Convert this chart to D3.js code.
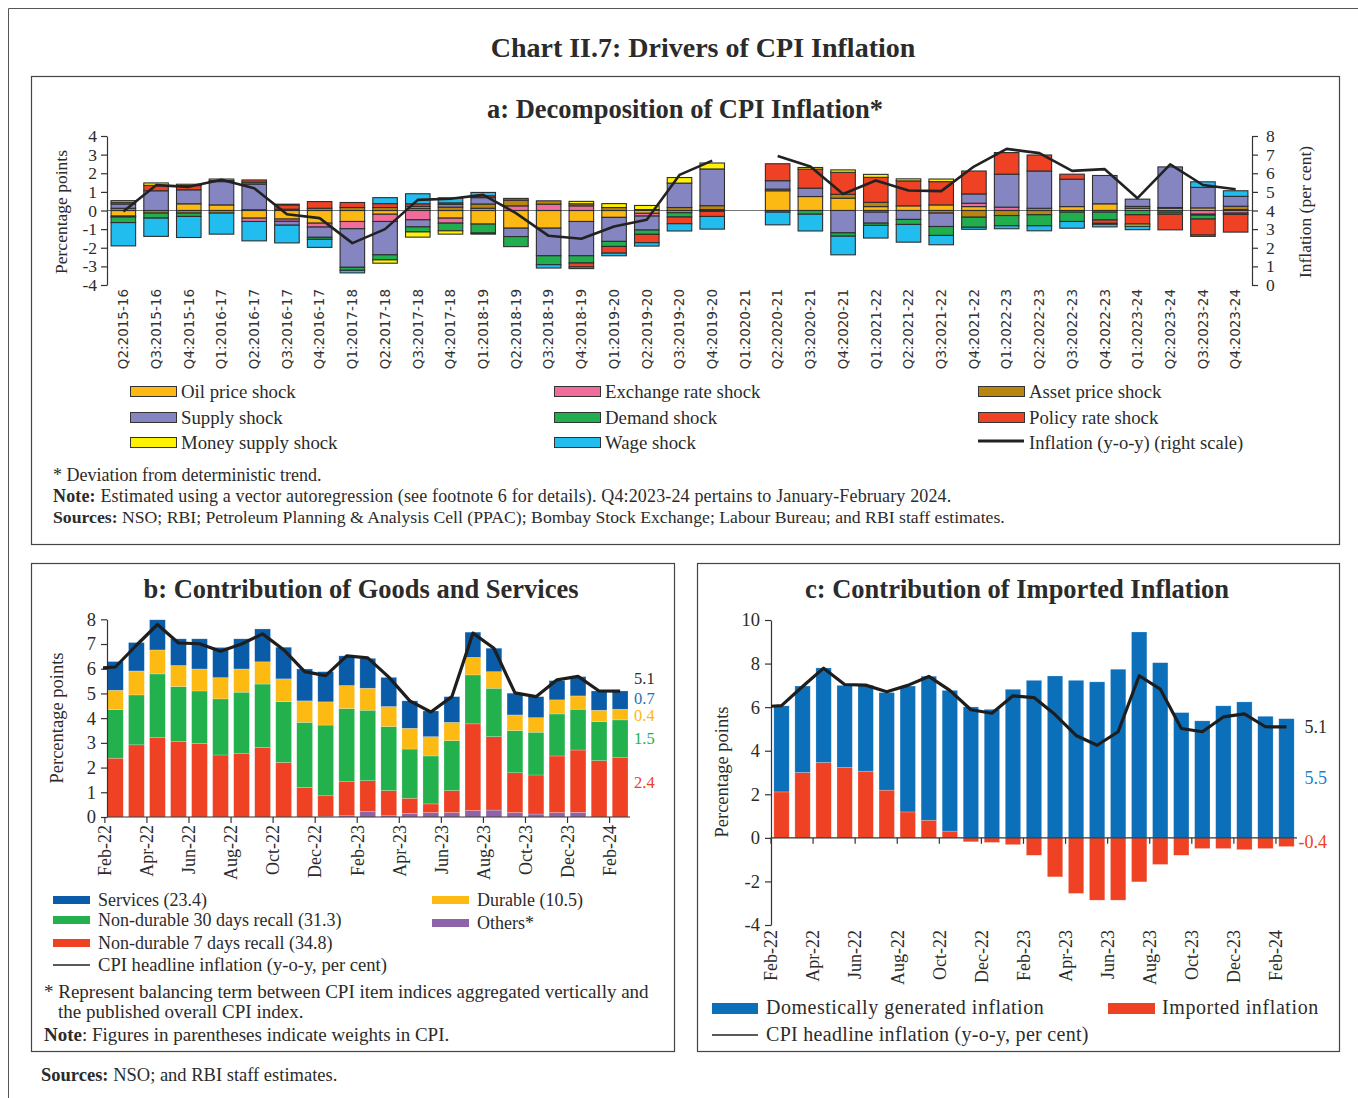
<!DOCTYPE html>
<html><head><meta charset="utf-8">
<script src="https://cdn.jsdelivr.net/npm/d3@7"></script>
<style>
body{margin:0;background:#fff;}
svg{display:block;}
</style></head><body>
<svg id="c" width="1358" height="1098"></svg>
<script>
// ---------------- DATA ----------------
// Panel a: quarters and shock decomposition (percentage points)
const quarters = ["Q2:2015-16","Q3:2015-16","Q4:2015-16","Q1:2016-17","Q2:2016-17","Q3:2016-17","Q4:2016-17",
  "Q1:2017-18","Q2:2017-18","Q3:2017-18","Q4:2017-18","Q1:2018-19","Q2:2018-19","Q3:2018-19","Q4:2018-19",
  "Q1:2019-20","Q2:2019-20","Q3:2019-20","Q4:2019-20","Q1:2020-21","Q2:2020-21","Q3:2020-21","Q4:2020-21",
  "Q1:2021-22","Q2:2021-22","Q3:2021-22","Q4:2021-22","Q1:2022-23","Q2:2022-23","Q3:2022-23","Q4:2022-23",
  "Q1:2023-24","Q2:2023-24","Q3:2023-24","Q4:2023-24"];
const oilShock    = [-0.30,0,0.36,0.30,-0.41,-0.46,-0.68,-0.59,-0.20,0.10,-0.41,-0.73,-0.95,-0.95,-0.59,-0.37,-0.15,0,0.05,null,1.06,0.75,0.66,0.21,0.25,0.30,0.21,0,0,0.21,0.36,0.12,0.12,0.14,0.05];
const exchShock   = [-0.05,0,0,0,-0.18,-0.12,-0.21,-0.39,-0.39,-0.50,-0.27,0.12,0.25,0.34,0.25,0,-0.15,-0.12,0,null,0,0,0,-0.09,0,0,0.18,0.18,0.12,0,0,0,-0.09,-0.20,-0.14];
const assetShock  = [0.12,-0.14,-0.14,-0.14,0.04,0,0.12,0.16,0.16,0.12,0.18,0.23,0.30,0.18,0.11,0.16,0.05,0.16,0.21,null,0.09,0,0.21,0.23,0,-0.14,-0.36,-0.27,-0.23,-0.09,-0.09,0.10,0.04,-0.05,0.18];
const supplyShock = [0.23,1.06,0.75,1.25,1.38,-0.21,-0.55,-2.07,-1.79,-0.38,0.15,0.34,-0.45,-1.48,-1.84,-1.29,-0.75,1.31,1.97,null,0.45,0.45,-1.20,-0.59,-0.48,-0.72,0.50,1.77,2.00,1.47,1.52,0.39,2.18,1.10,0.53];
const demandShock = [-0.30,-0.27,-0.18,0,0.10,0.07,-0.11,-0.16,-0.27,-0.27,-0.41,-0.48,-0.54,-0.48,-0.39,-0.27,-0.23,-0.23,-0.05,null,-0.09,-0.20,-0.18,-0.12,-0.27,-0.48,-0.54,-0.55,-0.59,-0.50,-0.42,-0.23,-0.11,-0.21,-0.07];
const policyShock = [0.09,0.29,0.23,0.06,0.12,0.23,0.36,0.27,0.21,0.14,0.08,0.10,0.10,0,-0.21,-0.36,-0.45,-0.36,-0.27,null,0.91,1.02,1.18,1.34,1.34,1.25,1.23,1.16,0.86,0.27,-0.18,-0.50,-0.84,-0.86,-0.95];
const moneyShock  = [0.09,0.13,0.07,0.08,0,0.04,0,0,-0.18,-0.28,-0.18,-0.06,0,0,0.13,0.21,0.22,0.30,0.32,null,0,0.09,0.13,0.16,0.11,0.14,0,0,0,0,-0.05,-0.12,0,-0.07,0];
const wageShock   = [-1.25,-0.98,-1.13,-1.13,-1.04,-0.95,-0.43,-0.14,0.32,0.54,0.27,0.18,0,-0.18,-0.09,-0.14,-0.18,-0.39,-0.68,null,-0.68,-0.90,-1.00,-0.68,-0.95,-0.50,-0.11,-0.16,-0.27,-0.36,-0.14,-0.18,0,0.30,0.30];
const inflationQ  = [3.95,5.36,5.27,5.65,5.20,3.80,3.59,2.25,3.00,4.57,4.63,4.84,3.86,2.64,2.48,3.14,3.50,5.91,6.68,null,6.93,6.36,4.89,5.61,5.07,5.04,6.36,7.31,7.08,6.13,6.22,4.66,6.48,5.37,5.14];
const leftTicksA  = [-4,-3,-2,-1,0,1,2,3,4];
const rightTicksA = [0,1,2,3,4,5,6,7,8];

// Panels b and c: months
const months = ["Feb-22","Mar-22","Apr-22","May-22","Jun-22","Jul-22","Aug-22","Sep-22","Oct-22","Nov-22","Dec-22",
  "Jan-23","Feb-23","Mar-23","Apr-23","May-23","Jun-23","Jul-23","Aug-23","Sep-23","Oct-23","Nov-23","Dec-23","Jan-24","Feb-24"];
const monthTickLabels = ["Feb-22","Apr-22","Jun-22","Aug-22","Oct-22","Dec-22","Feb-23","Apr-23","Jun-23","Aug-23","Oct-23","Dec-23","Feb-24"];
// Panel b contributions (percentage points)
const others    = [0,0,0,0,0,0,0,0,0,0,0.02,0.05,0.22,0.05,0.15,0.18,0.18,0.26,0.28,0.18,0.12,0.18,0.19,0,0];
const nonDur7   = [2.38,2.92,3.21,3.05,2.98,2.51,2.58,2.81,2.21,1.20,0.84,1.38,1.25,1.02,0.61,0.35,0.89,3.51,2.97,1.61,1.58,2.29,2.52,2.28,2.40];
const nonDur30  = [1.97,2.02,2.58,2.23,2.12,2.27,2.47,2.57,2.46,2.63,2.86,2.96,2.85,2.59,1.99,1.94,2.02,1.98,1.96,1.71,1.73,1.70,1.65,1.58,1.53];
const durable   = [0.78,0.97,0.97,0.85,0.89,0.86,0.94,0.90,0.92,0.87,0.94,0.93,0.89,0.81,0.84,0.78,0.74,0.71,0.67,0.63,0.59,0.57,0.54,0.46,0.43];
const services  = [1.16,1.15,1.22,1.08,1.22,1.22,1.22,1.33,1.28,1.29,1.22,1.20,1.21,1.18,1.11,1.04,1.04,1.02,0.95,0.88,0.85,0.78,0.78,0.78,0.74];
// CPI headline inflation (y-o-y, per cent); line begins at Jan-22 edge
const cpiLeadMonth = "Jan-22";
const cpiLeadValue = 6.01;
const cpiHeadline = [6.07,6.95,7.79,7.04,7.01,6.71,7.00,7.41,6.77,5.88,5.72,6.52,6.44,5.66,4.70,4.25,4.87,7.44,6.83,5.02,4.87,5.55,5.69,5.10,5.09];
const ticksB = [0,1,2,3,4,5,6,7,8];
// Panel c
const domestic = [3.95,3.97,4.34,3.77,3.94,4.48,5.78,6.61,6.46,6.01,5.90,6.82,7.23,7.43,7.23,7.16,7.74,9.45,8.04,5.75,5.37,6.06,6.24,5.58,5.47];
const imported = [2.11,3.00,3.46,3.23,3.06,2.19,1.19,0.81,0.31,-0.18,-0.21,-0.31,-0.80,-1.79,-2.55,-2.86,-2.86,-2.02,-1.22,-0.80,-0.49,-0.49,-0.54,-0.49,-0.40];
const ticksC = [-4,-2,0,2,4,6,8,10];

// ---------------- DRAWING ----------------
const SERIF = "'Liberation Serif','DejaVu Serif',serif";
const SANS = "'DejaVu Sans',sans-serif";
const INK = "#2b2b2b";
const svg = d3.select("#c");
const fmt = d => String(d);

function text(g, x, y, s, o = {}) {
  const t = g.append("text").attr("x", x).attr("y", y)
    .attr("font-family", o.family || SERIF).attr("font-size", o.size || 17)
    .attr("fill", o.fill || INK).attr("text-anchor", o.anchor || "start")
    .attr("font-weight", o.weight || "normal");
  if (o.ls) t.attr("letter-spacing", o.ls);
  if (o.rotate) t.attr("transform", `rotate(-90,${x},${y})`).attr("dy", o.dy || "0.35em");
  t.text(s);
  return t;
}
function richText(g, x, y, parts, size, ls) {
  const t = g.append("text").attr("x", x).attr("y", y).attr("font-family", SERIF)
    .attr("font-size", size).attr("fill", INK);
  if (ls) t.attr("letter-spacing", ls);
  parts.forEach(p => t.append("tspan").attr("font-weight", p[1] ? "bold" : "normal").text(p[0]));
}

// frame
svg.append("path").attr("d", "M8.5,1098 V8.5 H1358").attr("fill", "none").attr("stroke", "#555").attr("stroke-width", 1);
text(svg, 703, 57, "Chart II.7: Drivers of CPI Inflation", {size: 28, weight: "bold", anchor: "middle"});

// panel boxes
[[31, 76, 1308, 468], [31, 563, 643, 488], [697, 563, 642, 488]].forEach(b =>
  svg.append("rect").attr("x", b[0] + 0.5).attr("y", b[1] + 0.5).attr("width", b[2]).attr("height", b[3])
    .attr("fill", "none").attr("stroke", "#444").attr("stroke-width", 1.2));

// ========== PANEL A ==========
const A = svg.append("g");
text(A, 685, 118, "a: Decomposition of CPI Inflation*", {size: 26.5, weight: "bold", anchor: "middle"});

const seriesA = [
  {key: "oil", name: "Oil price shock", color: "#FDB913", vals: oilShock},
  {key: "exch", name: "Exchange rate shock", color: "#F06C9B", vals: exchShock},
  {key: "asset", name: "Asset price shock", color: "#B8860F", vals: assetShock},
  {key: "supply", name: "Supply shock", color: "#8585C2", vals: supplyShock},
  {key: "demand", name: "Demand shock", color: "#21AE4E", vals: demandShock},
  {key: "policy", name: "Policy rate shock", color: "#EF4123", vals: policyShock},
  {key: "money", name: "Money supply shock", color: "#FFF200", vals: moneyShock},
  {key: "wage", name: "Wage shock", color: "#22BDEF", vals: wageShock}
];
const ax = d3.scaleBand().domain(quarters).range([107, 1252]).paddingInner(0.25).paddingOuter(0.125);
const ay = d3.scaleLinear().domain([-4, 4]).range([285, 136]);
const ayR = d3.scaleLinear().domain([0, 8]).range([285, 136]);

// zero line
A.append("line").attr("x1", 107).attr("x2", 1252).attr("y1", ay(0)).attr("y2", ay(0))
  .attr("stroke", "#777").attr("stroke-width", 1);

const rowsA = quarters.map((q, i) => {
  const r = {q, missing: oilShock[i] === null};
  seriesA.forEach(s => r[s.key] = s.vals[i] === null ? 0 : s.vals[i]);
  return r;
});
const stackA = d3.stack().keys(seriesA.map(s => s.key)).offset(d3.stackOffsetDiverging)(rowsA);
stackA.forEach((layer, li) => {
  A.append("g").selectAll("rect").data(layer.filter(d => !d.data.missing && Math.abs(d[1] - d[0]) > 1e-9))
    .join("rect")
    .attr("x", d => ax(d.data.q)).attr("width", ax.bandwidth())
    .attr("y", d => ay(Math.max(d[0], d[1]))).attr("height", d => Math.abs(ay(d[0]) - ay(d[1])))
    .attr("fill", seriesA[li].color).attr("stroke", "#2e2e2e").attr("stroke-width", 1.1);
});

// inflation line (right scale)
const lineA = d3.line().defined(d => d.v !== null)
  .x(d => ax(d.q) + ax.bandwidth() / 2).y(d => ayR(d.v));
A.append("path").datum(quarters.map((q, i) => ({q, v: inflationQ[i]})))
  .attr("d", lineA).attr("fill", "none").attr("stroke", "#222").attr("stroke-width", 2.6)
  .attr("stroke-linejoin", "round");

// axes
const axL = A.append("g").attr("transform", "translate(107,0)")
  .call(d3.axisLeft(ay).tickValues(leftTicksA).tickFormat(fmt).tickSize(6).tickSizeOuter(0));
const axR = A.append("g").attr("transform", "translate(1252,0)")
  .call(d3.axisRight(ayR).tickValues(rightTicksA).tickFormat(fmt).tickSize(6).tickSizeOuter(0));
[axL, axR].forEach(g => {
  g.selectAll("path,line").attr("stroke", "#333").attr("stroke-width", 1.2);
  g.selectAll("text").attr("font-family", SERIF).attr("font-size", 17.5).attr("fill", INK);
});
axL.selectAll("text").attr("x", -10);
axR.selectAll("text").attr("x", 14);

// x labels
quarters.forEach(q => {
  const x = ax(q) + ax.bandwidth() / 2;
  text(A, x, 289, q, {family: SANS, size: 13.5, anchor: "end", rotate: true, fill: "#333"});
});
text(A, 61, 212, "Percentage points", {size: 17.5, anchor: "middle", rotate: true});
text(A, 1305, 212, "Inflation (per cent)", {size: 17.5, anchor: "middle", rotate: true});

// legend a
const legA = [
  [seriesA[0], 130, 392], [seriesA[3], 130, 418], [seriesA[6], 130, 443],
  [seriesA[1], 554, 392], [seriesA[4], 554, 418], [seriesA[7], 554, 443],
  [seriesA[2], 978, 392], [seriesA[5], 978, 418]
];
legA.forEach(([s, x, y]) => {
  A.append("rect").attr("x", x + 0.5).attr("y", y - 5.5).attr("width", 46).attr("height", 10)
    .attr("fill", s.color).attr("stroke", "#333").attr("stroke-width", 1);
  text(A, x + 51, y + 6, s.name, {size: 18.8});
});
A.append("line").attr("x1", 978).attr("x2", 1024).attr("y1", 441).attr("y2", 441)
  .attr("stroke", "#222").attr("stroke-width", 3);
text(A, 1029, 449, "Inflation (y-o-y) (right scale)", {size: 18.5});

text(A, 53, 481, "* Deviation from deterministic trend.", {size: 18});
richText(A, 53, 502, [["Note:", true], [" Estimated using a vector autoregression (see footnote 6 for details). Q4:2023-24 pertains to January-February 2024.", false]], 18, 0.15);
richText(A, 53, 523, [["Sources:", true], [" NSO; RBI; Petroleum Planning & Analysis Cell (PPAC); Bombay Stock Exchange; Labour Bureau; and RBI staff estimates.", false]], 17.7);

// ========== PANEL B ==========
const B = svg.append("g");
text(B, 361, 598, "b: Contribution of Goods and Services", {size: 26.5, weight: "bold", anchor: "middle"});
const seriesB = [
  {key: "others", name: "Others*", color: "#8E63A9", vals: others},
  {key: "nd7", name: "Non-durable 7 days recall (34.8)", color: "#EF4123", vals: nonDur7},
  {key: "nd30", name: "Non-durable 30 days recall (31.3)", color: "#22B14C", vals: nonDur30},
  {key: "dur", name: "Durable (10.5)", color: "#FDBA12", vals: durable},
  {key: "serv", name: "Services (23.4)", color: "#0B5CA8", vals: services}
];
const bx = d3.scaleBand().domain(months).range([107.5, 628]).paddingInner(0.25).paddingOuter(0);
const by = d3.scaleLinear().domain([0, 8]).range([817, 619.3]);
const rowsB = months.map((m, i) => { const r = {m}; seriesB.forEach(s => r[s.key] = s.vals[i]); return r; });
const stackB = d3.stack().keys(seriesB.map(s => s.key)).offset(d3.stackOffsetDiverging)(rowsB);
stackB.forEach((layer, li) => {
  B.append("g").selectAll("rect").data(layer.filter(d => Math.abs(d[1] - d[0]) > 1e-9)).join("rect")
    .attr("x", d => bx(d.data.m)).attr("width", bx.bandwidth())
    .attr("y", d => by(Math.max(d[0], d[1]))).attr("height", d => Math.abs(by(d[0]) - by(d[1])))
    .attr("fill", seriesB[li].color).attr("stroke", "rgba(255,255,255,0.35)").attr("stroke-width", 0.6);
});
const bBound = m => bx(m) - bx.step() * bx.paddingInner() / 2;
// axes b
const byAx = B.append("g").attr("transform", "translate(107,0)")
  .call(d3.axisLeft(by).tickValues(ticksB).tickFormat(fmt).tickSize(6).tickSizeOuter(0));
byAx.selectAll("path,line").attr("stroke", "#333").attr("stroke-width", 1.2);
byAx.selectAll("text").attr("font-family", SERIF).attr("font-size", 18.5).attr("fill", INK).attr("x", -11);
B.append("line").attr("x1", 107).attr("x2", 630).attr("y1", by(0)).attr("y2", by(0)).attr("stroke", "#333").attr("stroke-width", 1.2);
monthTickLabels.forEach(m => {
  const x = bBound(m);
  B.append("line").attr("x1", x).attr("x2", x).attr("y1", by(0)).attr("y2", by(0) + 6).attr("stroke", "#333").attr("stroke-width", 1.2);
  text(B, x, 825, m, {size: 18, anchor: "end", rotate: true});
});
// line b
B.append("clipPath").attr("id", "clipB").append("rect").attr("x", 103).attr("y", 600).attr("width", 530).attr("height", 230);
const lineB = d3.line().x(d => d.x).y(d => by(d.v));
const ptsB = [{x: bx(months[0]) + bx.bandwidth() / 2 - bx.step(), v: cpiLeadValue}]
  .concat(months.map((m, i) => ({x: bx(m) + bx.bandwidth() / 2, v: cpiHeadline[i]})));
B.append("path").datum(ptsB).attr("d", lineB).attr("clip-path", "url(#clipB)")
  .attr("fill", "none").attr("stroke", "#1e1e1e").attr("stroke-width", 3.2).attr("stroke-linejoin", "round");
text(B, 57, 718, "Percentage points", {size: 18.5, anchor: "middle", rotate: true});
// end labels b
const lastB = stackB.map(l => l[l.length - 1]);
const lastM = months.length - 1;
text(B, 634, by(cpiHeadline[lastM]) - 7, cpiHeadline[lastM].toFixed(1), {size: 16.5});
[[4, "#1F6FB5", -1], [3, "#FDB913", 1], [2, "#22B14C", 0], [1, "#EF4123", -4]].forEach(([li, c, off]) => {
  const d = lastB[li];
  text(B, 634, by((d[0] + d[1]) / 2) + 5 + off, seriesB[li].vals[lastM].toFixed(1), {size: 16.5, fill: c});
});
// legend b
[[seriesB[4], 53, 900], [seriesB[2], 53, 920], [seriesB[1], 53, 943], [seriesB[3], 432, 900], [seriesB[0], 432, 923]]
  .forEach(([s, x, y]) => {
    B.append("rect").attr("x", x).attr("y", y - 4).attr("width", 37).attr("height", 8).attr("fill", s.color);
    text(B, x + 45, y + 6, s.name, {size: 18});
  });
B.append("line").attr("x1", 53).attr("x2", 90).attr("y1", 965).attr("y2", 965).attr("stroke", "#222").attr("stroke-width", 1.5);
text(B, 98, 971, "CPI headline inflation (y-o-y, per cent)", {size: 18.6});
text(B, 44, 998, "* Represent balancing term between CPI item indices aggregated vertically and", {size: 19});
text(B, 58, 1018, "the published overall CPI index.", {size: 19});
richText(B, 44, 1041, [["Note", true], [": Figures in parentheses indicate weights in CPI.", false]], 19);

// ========== PANEL C ==========
const C = svg.append("g");
text(C, 1017, 598, "c: Contribution of Imported Inflation", {size: 26.5, weight: "bold", anchor: "middle"});
const seriesC = [
  {key: "imp", name: "Imported inflation", color: "#EF4123", vals: imported},
  {key: "dom", name: "Domestically generated inflation", color: "#0B6FBA", vals: domestic}
];
const cx = d3.scaleBand().domain(months).range([771, 1297]).paddingInner(0.27).paddingOuter(0.135);
const cy = d3.scaleLinear().domain([-4, 10]).range([925, 620]);
const rowsC = months.map((m, i) => ({m, imp: imported[i], dom: domestic[i]}));
const stackC = d3.stack().keys(["imp", "dom"]).offset(d3.stackOffsetDiverging)(rowsC);
stackC.forEach((layer, li) => {
  C.append("g").selectAll("rect").data(layer.filter(d => Math.abs(d[1] - d[0]) > 1e-9)).join("rect")
    .attr("x", d => cx(d.data.m)).attr("width", cx.bandwidth())
    .attr("y", d => cy(Math.max(d[0], d[1]))).attr("height", d => Math.abs(cy(d[0]) - cy(d[1])))
    .attr("fill", seriesC[li].color).attr("stroke", "rgba(255,255,255,0.35)").attr("stroke-width", 0.6);
});
const cBound = m => cx(m) - cx.step() * cx.paddingInner() / 2;
const cyAx = C.append("g").attr("transform", "translate(771,0)")
  .call(d3.axisLeft(cy).tickValues(ticksC).tickFormat(fmt).tickSize(6).tickSizeOuter(0));
cyAx.selectAll("path,line").attr("stroke", "#333").attr("stroke-width", 1.2);
cyAx.selectAll("text").attr("font-family", SERIF).attr("font-size", 18.5).attr("fill", INK).attr("x", -11);
C.append("line").attr("x1", 771).attr("x2", 1297).attr("y1", cy(0)).attr("y2", cy(0)).attr("stroke", "#333").attr("stroke-width", 1.3);
monthTickLabels.forEach(m => {
  const x = cBound(m);
  C.append("line").attr("x1", x).attr("x2", x).attr("y1", cy(0)).attr("y2", cy(0) + 6).attr("stroke", "#333").attr("stroke-width", 1.2);
  text(C, x, 930, m, {size: 18, anchor: "end", rotate: true});
});
C.append("clipPath").attr("id", "clipC").append("rect").attr("x", 771).attr("y", 600).attr("width", 530).attr("height", 330);
const ptsC = [{x: cx(months[0]) + cx.bandwidth() / 2 - cx.step(), v: cpiLeadValue}]
  .concat(months.map((m, i) => ({x: cx(m) + cx.bandwidth() / 2, v: cpiHeadline[i]})));
C.append("path").datum(ptsC).attr("d", d3.line().x(d => d.x).y(d => cy(d.v))).attr("clip-path", "url(#clipC)")
  .attr("fill", "none").attr("stroke", "#1e1e1e").attr("stroke-width", 3.2).attr("stroke-linejoin", "round");
text(C, 722, 772, "Percentage points", {size: 18.5, anchor: "middle", rotate: true});
const lastIdx = months.length - 1;
text(C, 1327, cy(cpiHeadline[lastIdx]) + 6, cpiHeadline[lastIdx].toFixed(1), {size: 18, anchor: "end"});
const lastC = stackC.map(l => l[l.length - 1]);
text(C, 1327, cy((lastC[1][0] + lastC[1][1]) / 2) + 6, domestic[lastIdx].toFixed(1), {size: 18, anchor: "end", fill: "#1F7FCC"});
text(C, 1327, cy((lastC[0][0] + lastC[0][1]) / 2) + 6, imported[lastIdx].toFixed(1), {size: 18, anchor: "end", fill: "#EF4123"});
// legend c
C.append("rect").attr("x", 712).attr("y", 1003).attr("width", 46).attr("height", 11).attr("fill", seriesC[1].color);
text(C, 766, 1014, seriesC[1].name, {size: 20, ls: 0.5});
C.append("rect").attr("x", 1108).attr("y", 1003).attr("width", 47).attr("height", 11).attr("fill", seriesC[0].color);
text(C, 1162, 1014, seriesC[0].name, {size: 20, ls: 0.6});
C.append("line").attr("x1", 712).attr("x2", 758).attr("y1", 1035).attr("y2", 1035).attr("stroke", "#222").attr("stroke-width", 1.5);
text(C, 766, 1041, "CPI headline inflation (y-o-y, per cent)", {size: 20, ls: 0.3});

// sources
richText(svg, 41, 1081, [["Sources:", true], [" NSO; and RBI staff estimates.", false]], 18.5);
</script>
</body></html>
